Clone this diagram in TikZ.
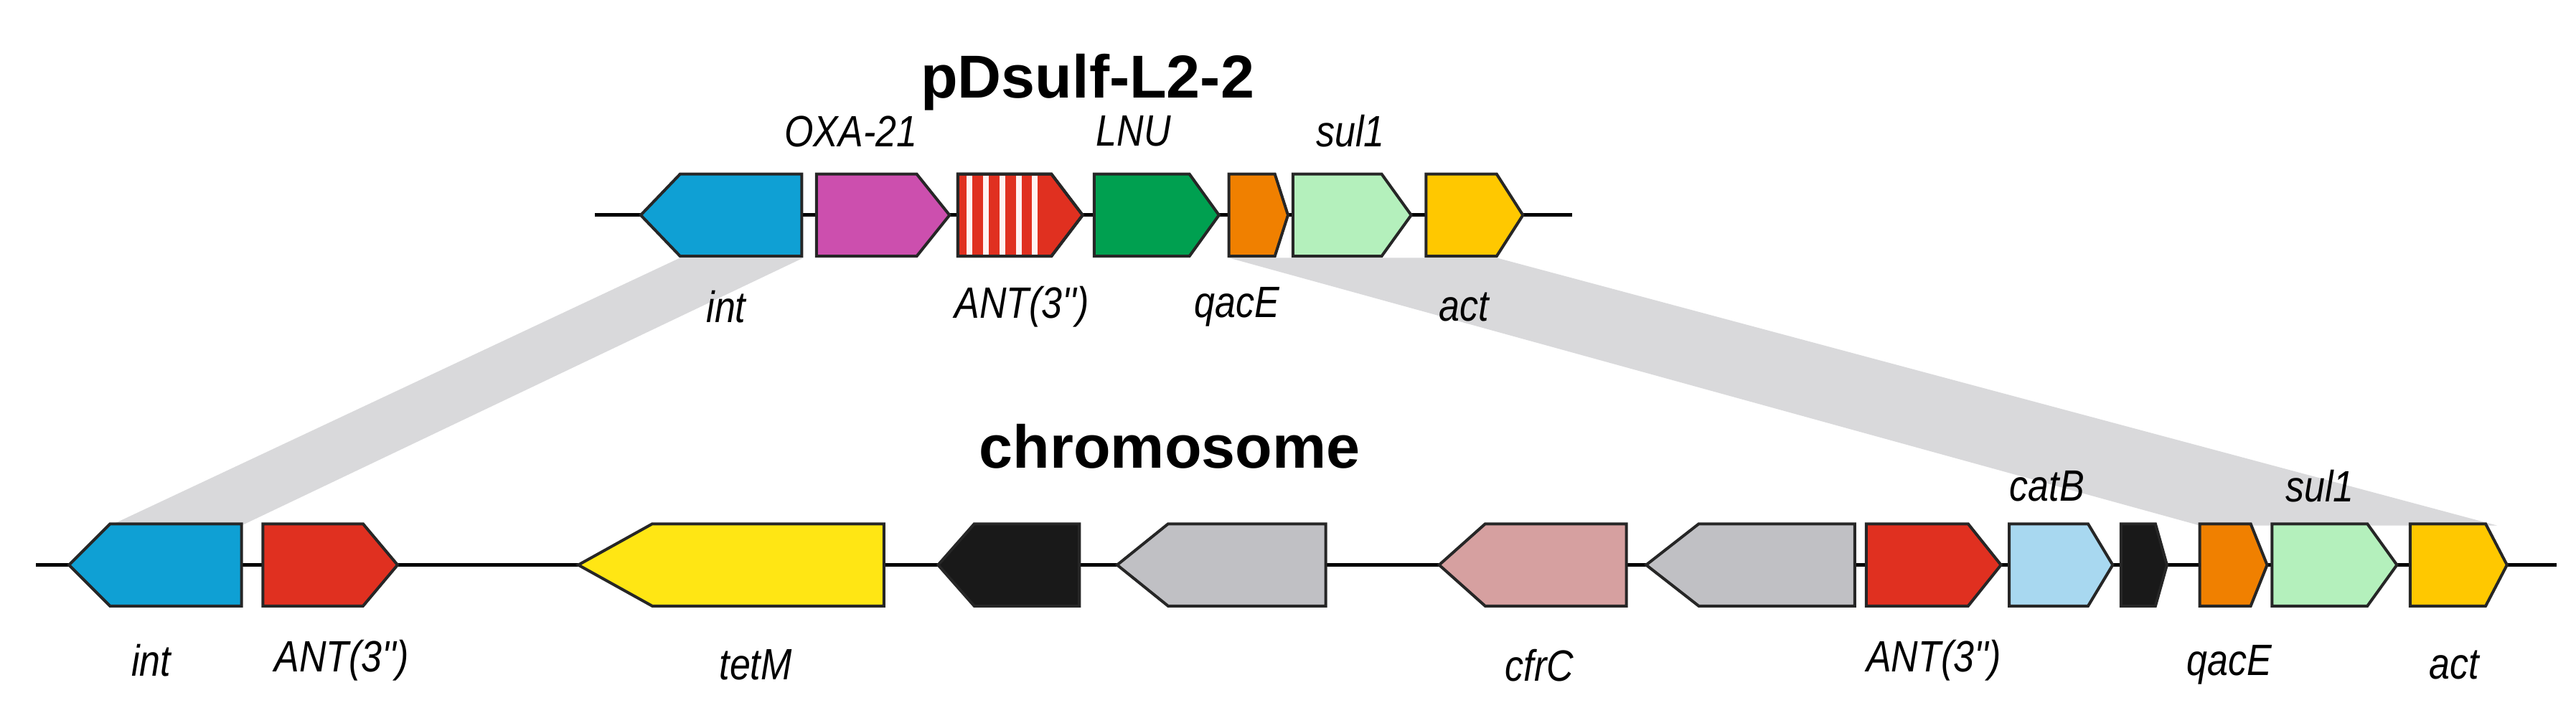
\documentclass[tikz,border=0pt]{standalone}
\usepackage{fontspec}
\setmainfont{Liberation Sans}
\newfontfamily\labf{Liberation Sans}[FakeStretch=0.85]
\begin{document}
\begin{tikzpicture}[x=0.1mm,y=-0.1mm,
  lab/.style={font=\labf\fontsize{7.6}{9}\selectfont\itshape,inner sep=0},
  ttl/.style={font=\bfseries\fontsize{10.5}{12}\selectfont,inner sep=0},
  gout/.style={draw=black!85,line width=0.5pt,line join=miter},
  band/.style={fill=gray!30!white,draw=none}]
\useasboundingbox (0,0) rectangle (1568,431);
\def\hh{25}
% gene macros: right arrow {x1}{xs}{xtip}{y}{colour}; left arrow {xtip}{xs}{x2}{y}{colour}
\newcommand\rgene[5]{\draw[gout,fill=#5] (#1,#4-\hh)--(#2,#4-\hh)--(#3,#4)--(#2,#4+\hh)--(#1,#4+\hh)--cycle;}
\newcommand\lgene[5]{\draw[gout,fill=#5] (#1,#4)--(#2,#4-\hh)--(#3,#4-\hh)--(#3,#4+\hh)--(#2,#4+\hh)--cycle;}
\definecolor{cint}{HTML}{0FA0D4}
\definecolor{coxa}{HTML}{CC4FAE}
\definecolor{cant}{HTML}{E03020}
\definecolor{clnu}{HTML}{00A050}
\definecolor{cqac}{HTML}{F08000}
\definecolor{csul}{HTML}{B4F0BC}
\definecolor{cact}{HTML}{FFC800}
\definecolor{ctet}{HTML}{FFE614}
\definecolor{cgry}{HTML}{C0C0C4}
\definecolor{ccfr}{HTML}{D6A0A0}
\definecolor{ccat}{HTML}{A8D8F0}
\definecolor{cband}{HTML}{D9D9DB}
% bands
\fill[cband] (414,157) -- (489,157) -- (147,320) -- (67,320) -- cycle;
\fill[cband] (748,157) -- (911,157) -- (1520,320) -- (1339,320) -- cycle;
% titles
\node[ttl] (t1) at (662,50) {pDsulf-L2-2};
\node[ttl] (t2) at (712,272) {chromosome};
% top row
\coordinate (a1) at (362,131); \coordinate (a2) at (957,131);
\draw[line width=0.6pt] (a1) -- (a2);
\lgene{390}{414}{488}{131}{cint}
\rgene{497}{558}{578}{131}{coxa}
\rgene{583}{640}{659}{131}{cant}
\foreach \sx in {590,600,610,620,630}{\draw[white!80!pink,line width=1pt] (\sx,107) -- (\sx,155);}
\draw[gout] (583,106)--(640,106)--(659,131)--(640,156)--(583,156)--cycle;
\rgene{666}{724}{742}{131}{clnu}
\rgene{748}{776}{784}{131}{cqac}
\rgene{787}{841}{859}{131}{csul}
\rgene{868}{911}{927}{131}{cact}
\node[lab] (l1) at (518,80) {OXA-21};
\node[lab] (l2) at (690,80) {LNU};
\node[lab] (l3) at (822,80) {sul1};
\node[lab] (l4) at (442,187) {int};
\node[lab] (l5) at (622,187) {ANT(3'')};
\node[lab] (l6) at (753,187) {qacE};
\node[lab] (l7) at (891,187) {act};
% bottom row
\coordinate (b1) at (22,344); \coordinate (b2) at (1556,344);
\draw[line width=0.6pt] (b1) -- (b2);
\lgene{42}{67}{147}{344}{cint}
\rgene{160}{221}{242}{344}{cant}
\lgene{352}{397}{538}{344}{ctet}
\lgene{571}{593}{657}{344}{black!90}
\lgene{680}{711}{807}{344}{cgry}
\lgene{876}{904}{990}{344}{ccfr}
\lgene{1002}{1034}{1129}{344}{cgry}
\rgene{1136}{1198}{1218}{344}{cant}
\rgene{1223}{1271}{1286}{344}{ccat}
\rgene{1291}{1312}{1319}{344}{black!90}
\rgene{1339}{1370}{1380}{344}{cqac}
\rgene{1383}{1441}{1459}{344}{csul}
\rgene{1467}{1513}{1526}{344}{cact}
\node[lab] (m1) at (1246,296) {catB};
\node[lab] (m2) at (1412,296) {sul1};
\node[lab] (m3) at (92,402) {int};
\node[lab] (m4) at (208,402) {ANT(3'')};
\node[lab] (m5) at (460,405) {tetM};
\node[lab] (m6) at (937,405) {cfrC};
\node[lab] (m7) at (1177,402) {ANT(3'')};
\node[lab] (m8) at (1357,405) {qacE};
\node[lab] (m9) at (1494,405) {act};
\end{tikzpicture}
\end{document}
